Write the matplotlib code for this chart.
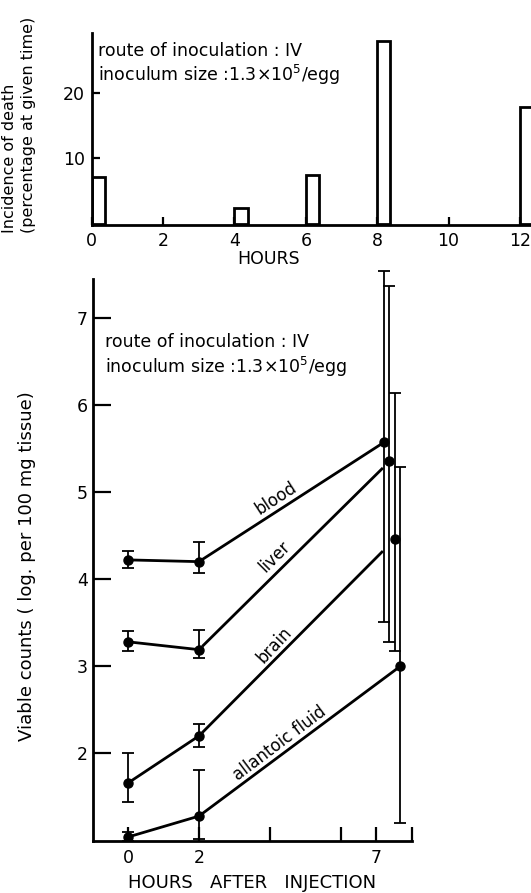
import matplotlib
matplotlib.use("Agg")
import matplotlib.pyplot as plt
import numpy as np

# --- top panel: incidence of death ---
death_hours = [0, 4, 6, 8, 12]
death_pct = [7.2, 2.4, 7.5, 27.9, 17.8]

# --- bottom panel: viable counts (log per 100 mg tissue) ---
inj_hours = [0, 2, 7]
tissues = ["blood", "liver", "brain", "allantoic fluid"]
blood = [4.22, 4.20, 5.57]
blood_lo = [0.09, 0.13, 2.06]
blood_hi = [0.10, 0.23, 1.97]
liver = [3.28, 3.19, 5.35]
liver_lo = [0.10, 0.10, 2.07]
liver_hi = [0.12, 0.23, 2.01]
brain = [1.66, 2.20, 4.46]
brain_lo = [0.22, 0.13, 1.28]
brain_hi = [0.34, 0.14, 1.68]
allantoic = [1.04, 1.28, 3.00]
allantoic_lo = [0.05, 0.26, 1.80]
allantoic_hi = [0.06, 0.53, 2.29]

plt.rcParams["font.family"] = ["DejaVu Sans"]
W, H = 531, 893

fig = plt.figure(figsize=(W / 100, H / 100), dpi=100)

# top axes
ax1 = fig.add_axes([91.7 / W, (H - 225) / H, (W - 91.7) / W, 192 / H])
ax1.bar(death_hours, death_pct, width=0.37, align="edge",
        facecolor="white", edgecolor="black", linewidth=2)
ax1.set_xlim(0, 12.31)
ax1.set_ylim(-0.2, 29.1)
ax1.set_xticks(range(0, 13, 2))
ax1.set_yticks([10, 20])
for s in ["top", "right"]:
    ax1.spines[s].set_visible(False)
for s in ["left", "bottom"]:
    ax1.spines[s].set_linewidth(2)
ax1.tick_params(direction="in", length=6, width=1.6, labelsize=12.5, pad=5)

fig.text(10 / W, (H - 233) / H, "Incidence of death", rotation=90,
         ha="center", va="bottom", fontsize=11.5)
fig.text(29 / W, (H - 233) / H, "(percentage at given time)", rotation=90,
         ha="center", va="bottom", fontsize=11.5)
fig.text(269 / W, (H - 258.7) / H, "HOURS", ha="center", va="center", fontsize=12.5)
fig.text(98 / W, (H - 50.8) / H, "route of inoculation : IV",
         ha="left", va="center", fontsize=12.5)
fig.text(98 / W, (H - 74.5) / H, "inoculum size :1.3$\\times$10$^5$/egg",
         ha="left", va="center", fontsize=12.5)

# bottom axes
ax2 = fig.add_axes([93.3 / W, (H - 840.5) / H, (411.7 - 93.3) / W, (840.5 - 279.3) / H])
ax2.set_xlim(-0.98, 8.0)
ax2.set_ylim(1.0, 7.44)

series = [(blood, blood_lo, blood_hi), (liver, liver_lo, liver_hi),
          (brain, brain_lo, brain_hi), (allantoic, allantoic_lo, allantoic_hi)]
first_x7 = inj_hours[2] + 0.22
blood_bottom = blood[2] - blood_lo[2]
for i, (vals, lo, hi) in enumerate(series):
    xs = [inj_hours[0], inj_hours[1], inj_hours[2] + 0.22 + 0.153 * i]
    eb = ax2.errorbar(xs, vals, yerr=[lo, hi], fmt="o", color="black", ms=6.5,
                      elinewidth=1.3, capsize=4, capthick=1.3, zorder=3)
    for art in eb.lines[1] + eb.lines[2]:
        art.set_clip_on(False)
    ax2.plot(xs[:2], vals[:2], color="black", lw=2)
    xa = xs[1] + 0.12
    # lines that run into the blood error bar stop there
    if i > 0 and vals[2] > blood_bottom:
        xb = first_x7 - 0.06
    else:
        xb = xs[2] - 0.12
    ya, yb = np.interp([xa, xb], xs[1:], vals[1:])
    ax2.plot([xa, xb], [ya, yb], color="black", lw=2)

label_pos = [(4.17, 4.93, 33), (4.13, 4.26, 45), (4.13, 3.24, 47), (4.27, 2.11, 37)]
for name, (lx, ly, rot) in zip(tissues, label_pos):
    ax2.text(lx, ly, name, rotation=rot, rotation_mode="anchor",
             ha="center", va="center", fontsize=12)

ax2.set_xticks([0, 2, 4, 6, 7, 8])
ax2.set_xticklabels(["0", "2", "", "", "7", ""])
ax2.set_yticks([2, 3, 4, 5, 6, 7])
for s in ["top", "right"]:
    ax2.spines[s].set_visible(False)
for s in ["left", "bottom"]:
    ax2.spines[s].set_linewidth(2)
ax2.tick_params(axis="y", direction="in", length=13, width=1.6, labelsize=12.5, pad=4)
ax2.tick_params(axis="x", direction="in", length=10, width=1.6, labelsize=12.5, pad=6)

fig.text(27 / W, (H - 566) / H, "Viable counts ( log. per 100 mg tissue)",
         rotation=90, ha="center", va="center", fontsize=13)
fig.text(252.5 / W, (H - 883.3) / H, "HOURS   AFTER   INJECTION",
         ha="center", va="center", fontsize=13)
fig.text(105 / W, (H - 341.7) / H, "route of inoculation : IV",
         ha="left", va="center", fontsize=12.5)
fig.text(105 / W, (H - 366.7) / H, "inoculum size :1.3$\\times$10$^5$/egg",
         ha="left", va="center", fontsize=12.5)

fig.savefig("out.png", dpi=100)
